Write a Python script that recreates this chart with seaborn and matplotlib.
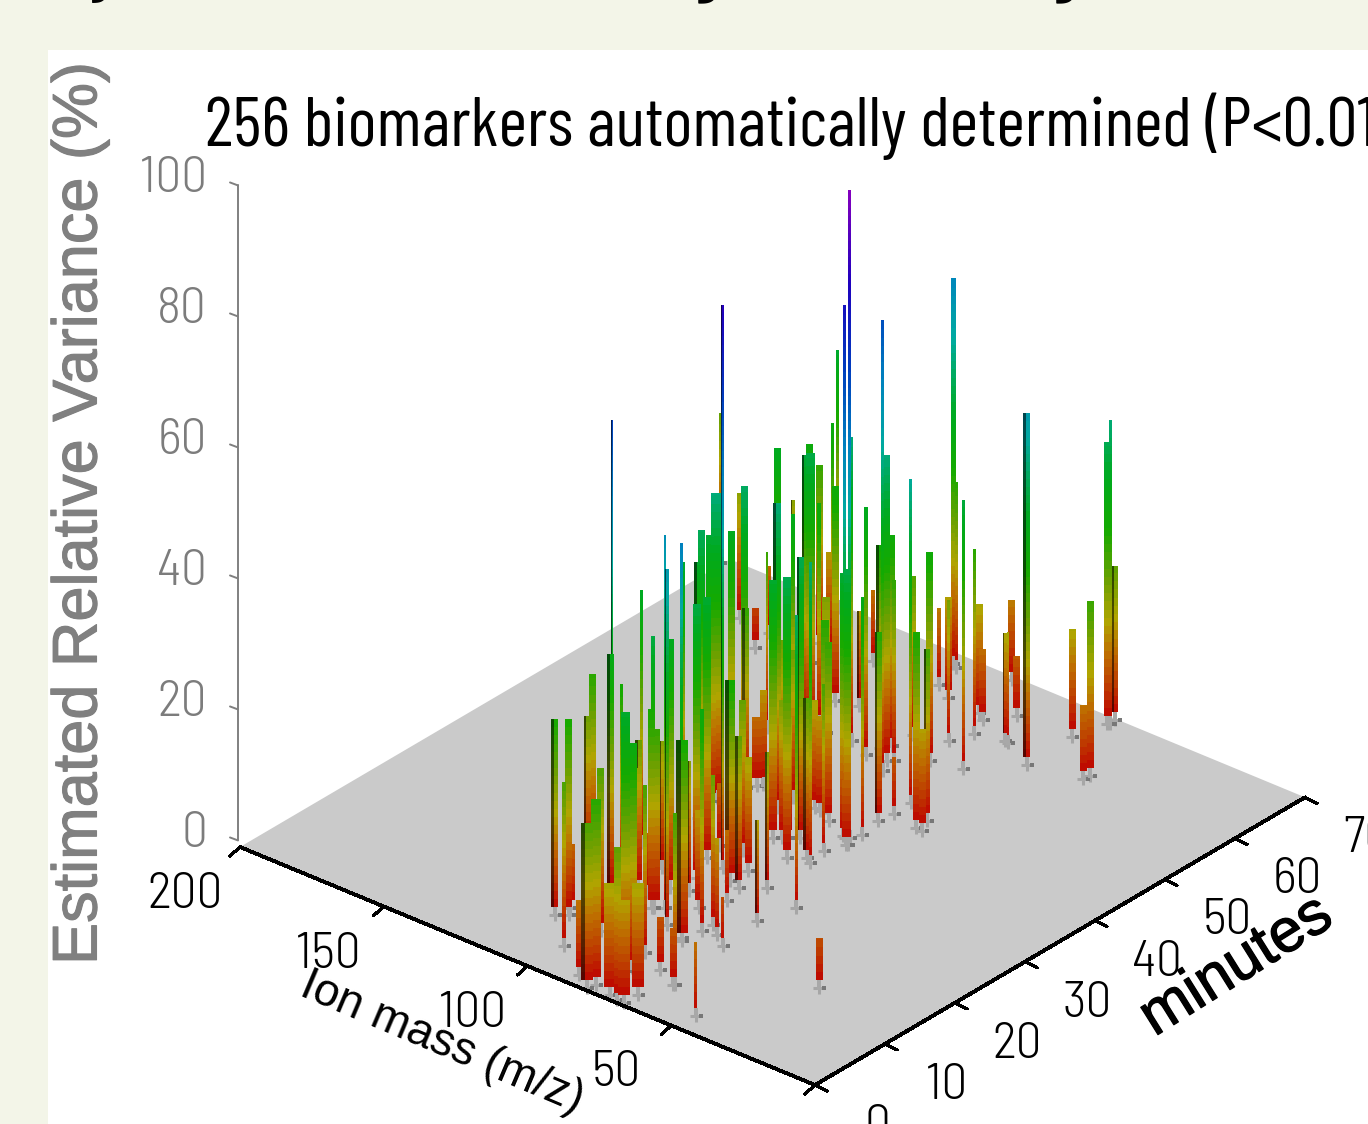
import numpy as np
import seaborn as sns
import matplotlib
matplotlib.use("Agg")
import matplotlib.pyplot as plt
import matplotlib.patheffects as pe
from matplotlib.collections import PolyCollection
from matplotlib.patches import Rectangle

# values: retention time, ion mass, relative variance, peak span in minutes
peak_minutes = [68.5, 68.7, 69.5, 60.1, 59.2, 64.6, 57.9, 69.1, 64.3, 60.0, 59.9, 62.5, 61.7, 59.2, 53.6,
                68.0, 67.6, 62.8, 56.7, 64.1, 52.7, 44.0, 42.3, 42.4, 55.4, 45.6, 50.6, 52.6, 43.1, 50.2,
                48.5, 51.6, 41.1, 63.6, 49.8, 38.2, 56.4, 35.9, 36.9, 37.0, 36.7, 51.0, 69.1, 55.7, 63.1,
                62.6, 63.1, 51.6, 39.1, 38.2, 33.6, 59.6, 51.1, 31.1, 31.6, 8.6, 9.4, 4.7, 10.5, 18.2,
                19.0, 9.0, 0.1, 1.0, 1.5, 15.3, 15.8, 0.4, 0.1, 0.2, 16.8, 4.8, 5.6, 17.4, 17.3,
                2.1, 24.0, 8.5, 17.2, 15.5, 15.3, 7.0, 13.8, 16.1, 5.7, 5.6, 21.6, 29.0, 12.8, 12.4,
                2.5, 20.0, 18.1, 30.9, 31.1, 15.0, 16.5, 34.6, 34.9, 25.2, 68.6, 14.1, 20.8, 28.2, 38.6,
                23.3, 61.9, 39.4, 38.0, 19.7, 58.5, 25.0, 47.8, 61.5, 52.7, 33.4, 63.6, 45.1, 23.9, 36.9,
                39.2, 35.8, 39.0, 33.0, 13.8, 26.3, 15.3,
                34.5, 22.3, 25.7, 37.0, 30.5, 50.4, 32.5, 34.1, 39.8, 50.6, 40.0, 39.4, 21.6, 34.2, 23.8,
                28.8, 39.5, 43.7, 15.4, 30.0, 19.3]
peak_mz = [65.2, 64.5, 64.9, 50.6, 50.9, 67.8, 67.3, 99.8, 86.3, 80.0, 78.7, 95.0, 91.8, 88.8, 78.9,
           117.4, 115.4, 106.6, 91.5, 113.0, 88.4, 68.2, 65.7, 68.0, 100.9, 77.7, 95.8, 101.4, 77.4, 97.2,
           94.5, 103.1, 78.1, 134.8, 103.5, 76.6, 122.0, 76.0, 80.1, 78.0, 79.0, 111.3, 160.3, 128.6, 147.6,
           147.5, 151.9, 124.3, 93.5, 88.3, 78.8, 146.9, 127.8, 77.4, 79.8, 111.4, 108.6, 98.8, 110.8, 123.6,
           123.5, 96.5, 79.7, 78.7, 85.6, 108.3, 109.1, 72.4, 69.1, 66.9, 108.2, 77.7, 77.3, 103.8, 104.0,
           66.7, 118.9, 79.9, 100.3, 93.6, 94.1, 70.9, 85.1, 91.4, 62.6, 63.0, 103.4, 116.7, 77.5, 76.4,
           47.6, 92.4, 84.5, 116.0, 115.2, 75.9, 75.7, 119.8, 119.0, 93.5, 200.0, 66.4, 81.2, 101.7, 122.9,
           83.2, 176.8, 120.3, 116.6, 68.1, 163.3, 77.5, 133.1, 165.7, 141.5, 90.6, 162.6, 117.4, 64.7, 95.2,
           95.5, 76.4, 115.0, 91.8, 32.2, 87.3, 71.4,
           120.4, 95.3, 100.2, 103.3, 83.9, 124.3, 93.7, 88.2, 93.5, 119.4, 109.6, 103.5, 105.9, 119.0, 87.5,
           95.3, 114.1, 116.2, 93.8, 119.0, 97.3]
peak_var = [43.4, 46.7, 23.8, 27.0, 11.6, 16.8, 54.0, 12.5, 9.5, 16.9, 17.3, 16.9, 11.1, 28.5, 41.4,
            59.2, 28.7, 15.7, 21.8, 12.1, 32.2, 26.6, 15.9, 30.2, 24.6, 49.8, 27.9, 32.5, 9.0, 47.0,
            69.2, 31.3, 29.2, 11.1, 38.2, 36.6, 14.8, 42.4, 40.5, 99.2, 81.7, 46.7, 39.7, 33.1, 34.7,
            15.3, 27.5, 33.9, 14.8, 27.6, 25.8, 33.7, 40.9, 46.3, 24.7, 30.2, 30.2, 25.3, 10.1, 22.4,
            28.4, 25.2, 25.5, 28.7, 11.8, 36.6, 71.8, 17.4, 23.7, 15.9, 31.0, 39.8, 34.7, 22.9, 18.6,
            17.4, 38.9, 26.0, 9.5, 27.6, 30.7, 8.4, 54.7, 57.3, 26.6, 9.0, 20.3, 40.5, 60.6, 31.0,
            11.6, 20.2, 15.3, 39.4, 44.3, 34.2, 23.2, 46.9, 46.9, 86.3, 23.2, 7.8, 11.1, 10.0, 38.0,
            23.5, 19.4, 44.9, 27.8, 15.7, 6.4, 21.1, 27.2, 10.5, 38.5, 18.8, 19.8, 37.6, 45.0, 18.3,
            16.8, 10.2, 10.8, 21.4, 7.9, 17.7, 15.1,
            40.5, 42.1, 40.2, 46.9, 43.2, 42.3, 39.7, 43.2, 29.0, 21.0, 22.9, 22.9, 19.8, 17.3, 31.0,
            23.4, 14.8, 13.3, 41.8, 29.2, 38.3]
peak_span = [1.0, 0.4, 0.9, 1.0, 1.0, 1.0, 1.0, 1.0, 1.0, 0.6, 0.4, 1.0, 1.0, 0.4, 0.4,
             0.6, 0.4, 1.0, 0.4, 0.6, 1.0, 0.9, 1.0, 1.0, 1.0, 0.4, 0.6, 1.0, 0.6, 1.0,
             0.4, 1.0, 1.0, 0.6, 0.6, 0.4, 0.6, 1.0, 1.0, 0.4, 0.4, 0.4, 0.4, 1.0, 0.4,
             1.0, 1.0, 0.6, 1.0, 0.9, 0.4, 1.0, 0.9, 0.4, 1.1, 1.0, 1.0, 0.6, 1.4, 1.0,
             1.0, 1.0, 1.7, 1.4, 1.0, 1.0, 0.4, 1.7, 1.0, 1.7, 0.4, 1.3, 1.4, 1.0, 0.6,
             1.7, 0.4, 0.6, 0.6, 1.7, 1.0, 1.0, 0.6, 0.4, 0.6, 1.0, 1.0, 0.6, 0.4, 1.7,
             0.4, 0.6, 1.0, 1.0, 1.0, 0.6, 0.6, 0.4, 1.0, 0.4, 0.4, 0.4, 0.6, 0.9, 1.0,
             1.0, 0.9, 1.0, 1.0, 0.6, 1.0, 0.6, 0.4, 0.6, 1.0, 1.0, 0.6, 0.6, 0.4, 1.0,
             1.0, 1.0, 1.4, 1.0, 1.0, 1.0, 0.6,
             1.1, 1.1, 1.1, 1.2, 1.2, 1.2, 1.1, 1.0, 1.1, 1.2, 1.4, 1.2, 1.2, 1.2, 1.3,
             1.1, 1.0, 1.3, 0.5, 0.7, 1.1]

var_ticks = [0, 20, 40, 60, 80, 100]
mz_ticks = [200, 150, 100, 50]
minute_ticks = [0, 10, 20, 30, 40, 50, 60, 70]

title_text = "256 biomarkers automatically determined (P<0.01)"
var_label = "Estimated Relative Variance (%)"
mz_label = "Ion mass (m/z)"
minute_label = "minutes"

# colour by height, red at the floor to purple at 100 %
height_stops = [0, 2, 6, 11, 16, 22, 30, 38, 44, 50, 60, 72, 85, 100]
height_colors = ["#be0a00", "#be0a00", "#be3c00", "#be6e00", "#b0a500", "#6ea000", "#14aa00",
                 "#00aa1e", "#00aa5a", "#00aaa0", "#0082be", "#003cbe", "#1e00be", "#8c00be"]


def project(minutes, mz, var=0.0):
    # the picture is an oblique view without perspective
    minutes = np.asarray(minutes, dtype=float)
    mz = np.asarray(mz, dtype=float)
    x = 815 + 7.0 * minutes - 2.875 * mz
    y = 1085 - 4.11 * minutes - 1.19 * mz - 6.55 * np.asarray(var, dtype=float)
    return x, y


def height_color(var):
    return np.array([np.interp(var, height_stops, channel) for channel in stop_rgb.T])


sns.set_theme(style="white")
plt.rcParams["font.family"] = ["Liberation Sans", "DejaVu Sans"]
narrow = ["Barlow Condensed", "Liberation Sans", "DejaVu Sans"]
semi = ["Barlow Semi Condensed", "Liberation Sans", "DejaVu Sans"]
stop_rgb = np.array(sns.color_palette(height_colors, len(height_colors)))

fig = plt.figure(figsize=(13.68, 11.24), dpi=100, facecolor="#f3f5e8")
ax = fig.add_axes([0, 0, 1, 1])
ax.set_xlim(0, 1368)
ax.set_ylim(1124, 0)
ax.axis("off")
ax.add_patch(Rectangle((48, 50), 1320, 1074, facecolor="white", edgecolor="none", zorder=0))

# floor
floor_x, floor_y = project([0, 70, 70, 0], [200, 200, 0, 0])
ax.fill(floor_x, floor_y, color="#cacaca", lw=0, zorder=1)

# feet of the peaks
foot_x, foot_y = project(peak_minutes, peak_mz)
ax.scatter(foot_x, foot_y - 2, marker="+", s=70, c="#a6a6a6", linewidths=2.2, zorder=2)
ax.scatter(foot_x + 5, foot_y - 2, marker="s", s=7, c="#777777", linewidths=0, zorder=2)

# bars, back to front, built from small height steps
dark_peaks = {2, 6, 9, 21, 31, 32, 36, 52, 54, 55, 59, 62, 65, 66, 73, 82, 86, 89, 91, 93, 99, 105, 108, 109, 111, 116,
              130, 134, 139, 141}
polys = []
faces = []
step = 1.25
for i in np.argsort(foot_y):
    half = peak_span[i] * 7.0 / 2
    x0, y0 = project(peak_minutes[i], peak_mz[i])
    # grey stub under the coloured part
    polys.append([(x0 - 2, y0), (x0 + 2, y0), (x0 + 2, y0 - 10), (x0 - 2, y0 - 10)])
    faces.append((0.66, 0.66, 0.66))
    levels = np.arange(1.5, peak_var[i], step)
    for low in levels:
        high = min(low + step, peak_var[i])
        ya = y0 - 6.55 * low
        yb = y0 - 6.55 * high
        base = height_color((low + high) / 2)
        polys.append([(x0 - half, ya), (x0 + half, ya), (x0 + half, yb), (x0 - half, yb)])
        faces.append(tuple(base))
        if i in dark_peaks:
            polys.append([(x0 - half, ya), (x0 - half / 4, ya), (x0 - half / 4, yb), (x0 - half, yb)])
            faces.append(tuple(base * 0.45))
ax.add_collection(PolyCollection(polys, facecolors=faces, edgecolors="none", antialiaseds=False, zorder=3))

# vertical axis
vx, vy = project([0, 0], [200, 200], [1, 101])
ax.plot(vx - 2, vy, color="#808080", lw=1.4, zorder=4)
for v in var_ticks:
    tx, ty = project(0, 200, v + 1)
    ax.plot([tx - 10, tx - 2], [ty - 3, ty], color="#808080", lw=1.4, zorder=4)
    ax.text(tx - 33, ty - 6, str(v), ha="right", va="center", fontsize=37, color="#7c7c7c",
            family=semi, fontweight=300)

# floor axes
ax.plot(*project([0, 0], [200, 0]), color="black", lw=2.0, antialiased=False, zorder=4)
ax.plot(*project([0, 70], [0, 0]), color="black", lw=2.0, antialiased=False, zorder=4)
for m in mz_ticks + [0]:
    tx, ty = project(0, m)
    ax.plot([tx, tx - 10], [ty, ty + 9], color="black", lw=1.6, antialiased=False, zorder=4)
for m in mz_ticks:
    tx, ty = project(0, m)
    ax.text(tx - 55, ty + 48, str(m), ha="center", va="center", fontsize=37, color="black",
            family=semi, fontweight=300)
for t in minute_ticks:
    tx, ty = project(t, 0)
    ax.plot([tx, tx + 12], [ty, ty + 6], color="black", lw=1.6, antialiased=False, zorder=4)
    ax.text(tx + 62, ty + 42, str(t), ha="center", va="center", fontsize=37, color="black",
            family=semi, fontweight=300)

# titles and labels
ax.text(205, 146, title_text, ha="left", va="baseline", fontsize=50, color="black", family=narrow)
ax.text(80, 965, var_label, rotation=90, ha="center", va="bottom", fontsize=45.4, color="#808080",
        path_effects=[pe.withStroke(linewidth=0.8, foreground="#808080")])
ax.text(442, 1043, mz_label, rotation=-23, ha="center", va="center", fontsize=33, color="black",
        rotation_mode="anchor")
ax.text(1237, 967, minute_label, rotation=32, ha="center", va="center", fontsize=44, color="black",
        rotation_mode="anchor", path_effects=[pe.withStroke(linewidth=0.9, foreground="black")])

# descenders of the line cut off above the panel
for tail_x, tail in [(103, "y"), (705, "g"), (1063, "g")]:
    ax.text(tail_x, -9, tail, ha="center", va="baseline", fontsize=46, fontweight="bold", color="black",
            family=narrow, clip_on=False)

fig.savefig("out.png", dpi=100, facecolor=fig.get_facecolor())
